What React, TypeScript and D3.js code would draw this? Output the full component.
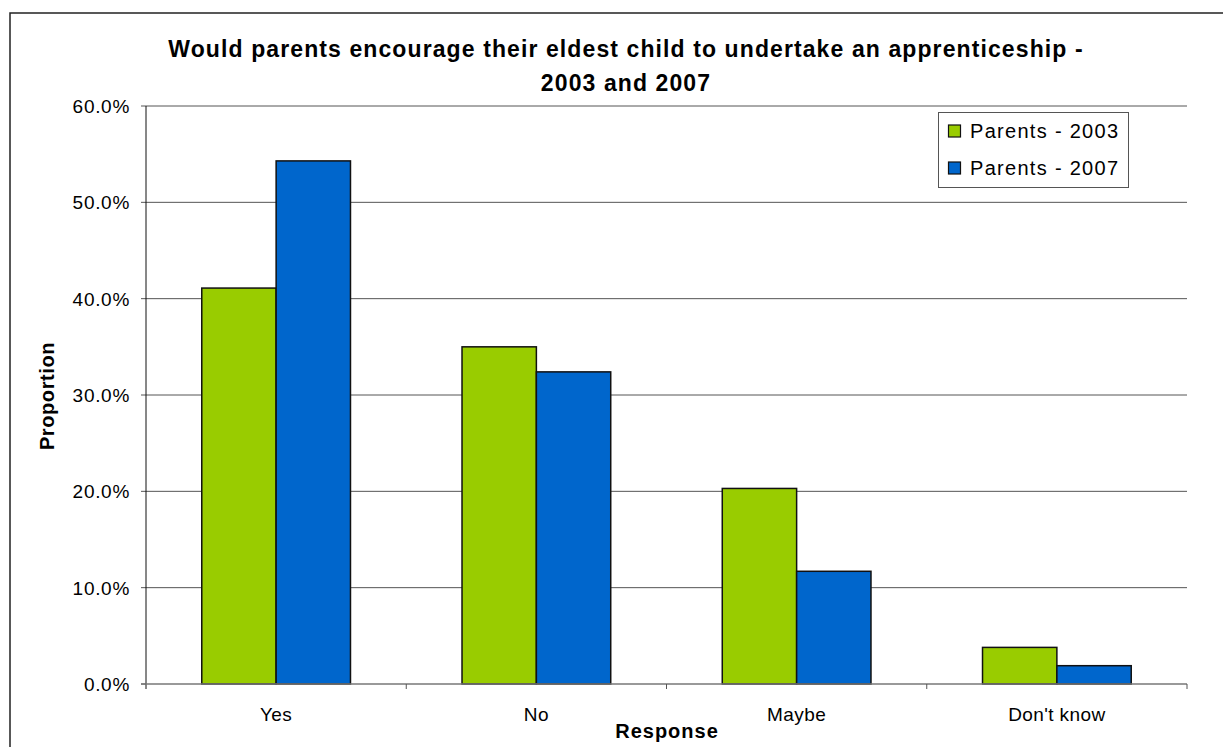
import React from "react";
import * as d3 from "d3";

const categories = ["Yes", "No", "Maybe", "Don't know"];
const seriesNames = ["Parents - 2003", "Parents - 2007"];
const values2003 = [41.1, 35.0, 20.3, 3.8];
const values2007 = [54.3, 32.4, 11.7, 1.9];
const yTicks = [0, 10, 20, 30, 40, 50, 60];
const colors = ["#99CC00", "#0066CC"];

const W = 1223;
const H = 747;
const plot = { left: 146, right: 1187, top: 106, bottom: 684 };
const font = "'Liberation Sans', Arial, sans-serif";

export default function App() {
  const x = d3.scaleBand<string>().domain(categories).range([plot.left, plot.right]).paddingInner(0).paddingOuter(0);
  const y = d3.scaleLinear().domain([0, 60]).range([plot.bottom, plot.top]);
  const bw = x.bandwidth() / 3.5;
  const series = [values2003, values2007];

  return (
    <svg width={W} height={H} style={{ position: "absolute", left: 0, top: 0 }} fontFamily={font}>
      <rect x={0} y={0} width={W} height={H} fill="#fff" />
      <rect x={10} y={13} width={1220} height={760} fill="none" stroke="#222" strokeWidth={1.5} />
      <text x={626} y={57} textAnchor="middle" fontSize={23} letterSpacing={1.1} fontWeight="bold" fill="#000">
        Would parents encourage their eldest child to undertake an apprenticeship -
      </text>
      <text x={626} y={91} textAnchor="middle" fontSize={23} letterSpacing={1.1} fontWeight="bold" fill="#000">
        2003 and 2007
      </text>
      {yTicks.map((t) => (
        <g key={t}>
          {t > 0 && (
            <line x1={plot.left} x2={plot.right} y1={y(t)} y2={y(t)} stroke="#555" strokeWidth={1} />
          )}
          <line x1={plot.left - 5} x2={plot.left} y1={y(t)} y2={y(t)} stroke="#555" strokeWidth={1} />
          <text x={130} y={y(t) + 7} textAnchor="end" fontSize={19} letterSpacing={0.7} fill="#000">
            {t.toFixed(1)}%
          </text>
        </g>
      ))}
      {categories.map((c, i) =>
        series.map((s, j) => (
          <rect
            key={c + j}
            x={(x(c) as number) + bw * 0.75 + j * bw}
            y={y(s[i])}
            width={bw}
            height={plot.bottom - y(s[i])}
            fill={colors[j]}
            stroke="#111"
            strokeWidth={1.5}
          />
        ))
      )}
      <line x1={plot.left} x2={plot.left} y1={plot.top} y2={plot.bottom + 5} stroke="#111" strokeWidth={1} />
      <line x1={plot.left - 5} x2={plot.right} y1={plot.bottom} y2={plot.bottom} stroke="#777" strokeWidth={1.5} />
      {categories.map((c) => (
        <g key={c}>
          <line
            x1={(x(c) as number) + x.bandwidth()}
            x2={(x(c) as number) + x.bandwidth()}
            y1={plot.bottom}
            y2={plot.bottom + 5}
            stroke="#555"
          />
          <text x={(x(c) as number) + x.bandwidth() / 2} y={721} textAnchor="middle" fontSize={19} letterSpacing={0.4} fill="#000">
            {c}
          </text>
        </g>
      ))}
      <text x={667} y={738} textAnchor="middle" fontSize={20} letterSpacing={1} fontWeight="bold" fill="#000">
        Response
      </text>
      <text transform={`translate(54,396) rotate(-90)`} textAnchor="middle" fontSize={20} letterSpacing={0.6} fontWeight="bold" fill="#000">
        Proportion
      </text>
      <rect x={938.5} y={112.5} width={190} height={75} fill="#fff" stroke="#555" strokeWidth={1} />
      {seriesNames.map((n, j) => (
        <g key={n}>
          <rect x={948.5} y={125 + j * 37} width={12} height={12} fill={colors[j]} stroke="#111" strokeWidth={1.2} />
          <text x={970} y={138 + j * 37} fontSize={20} letterSpacing={1.3} fill="#000">
            {n}
          </text>
        </g>
      ))}
    </svg>
  );
}
